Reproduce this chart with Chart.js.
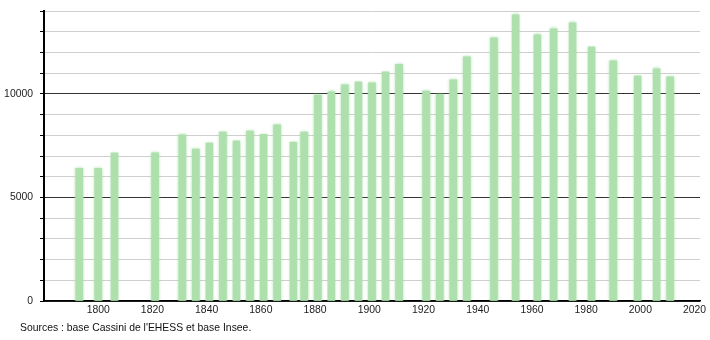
<!DOCTYPE html>
<html>
<head>
<meta charset="utf-8">
<script src="https://cdn.jsdelivr.net/npm/chart.js@4/dist/chart.umd.min.js"></script>
<style>
html,body{margin:0;padding:0;background:#fff;}
#wrap{position:relative;width:710px;height:340px;}
</style>
</head>
<body>
<div id="wrap"><canvas id="c" width="710" height="340"></canvas></div>
<script>
const years = [1793,1800,1806,1821,1831,1836,1841,1846,1851,1856,1861,1866,1872,1876,1881,1886,1891,1896,1901,1906,1911,1921,1926,1931,1936,1946,1954,1962,1968,1975,1982,1990,1999,2006,2011];
const population = [6400,6400,7150,7150,8020,7340,7630,8160,7730,8200,8050,8500,7670,8150,9940,10100,10430,10580,10530,11060,11430,10140,9980,10680,11790,12700,13820,12850,13140,13430,12270,11590,10870,11210,10820];
const xTickLabels = [1800,1820,1840,1860,1880,1900,1920,1940,1960,1980,2000,2020];
const yTickLabels = [0,5000,10000];
const sourceText = "Sources : base Cassini de l'EHESS et base Insee.";

const softBars = {
  id: 'softBars',
  beforeDatasetDraw(chart) {
    const ctx = chart.ctx;
    ctx.save();
    ctx.shadowColor = 'rgba(160,220,160,0.9)';
    ctx.shadowBlur = 3;
  },
  afterDatasetDraw(chart) { chart.ctx.restore(); }
};
const sourcePlugin = {
  id: 'sourceText',
  afterDraw(chart) {
    const ctx = chart.ctx;
    ctx.save();
    ctx.font = '10.4px "Liberation Sans", Arial, sans-serif';
    ctx.fillStyle = '#111';
    ctx.textBaseline = 'middle';
    ctx.textAlign = 'left';
    ctx.fillText(sourceText, 20, 328);
    ctx.restore();
  }
};

new Chart(document.getElementById('c'), {
  type: 'bar',
  data: {
    datasets: [{
      data: years.map((y, i) => ({x: y, y: population[i]})),
      backgroundColor: '#aee0ae',
      borderWidth: 0,
      barThickness: 7
    }]
  },
  options: {
    responsive: false,
    animation: false,
    events: [],
    layout: { padding: { top: 11, right: 10, left: 0, bottom: 0 } },
    plugins: { legend: { display: false }, tooltip: { enabled: false } },
    scales: {
      x: {
        type: 'linear',
        offset: false,
        min: 1780,
        max: 2022,
        afterFit(s) { s.height = 39; },
        afterBuildTicks(s) { s.ticks = xTickLabels.map(v => ({value: v})); },
        grid: { display: false, drawTicks: false, offset: false },
        border: { display: true, color: '#000', width: 1.5 },
        ticks: {
          padding: 3,
          color: '#222',
          font: { family: '"Liberation Sans", Arial, sans-serif', size: 10.4 },
          maxRotation: 0,
          autoSkip: false,
          callback: v => String(v)
        }
      },
      y: {
        min: 0,
        max: 14000,
        afterFit(s) { s.width = 44; s.paddingTop = 0; s.paddingBottom = 0; },
        grid: {
          color: ctx => (ctx.tick && ctx.tick.value % 5000 === 0 ? '#333' : '#cfcfcf'),
          lineWidth: 1,
          tickLength: 4,
          tickColor: '#000'
        },
        border: { display: true, color: '#000', width: 2 },
        ticks: {
          stepSize: 1000,
          padding: 7,
          color: '#222',
          font: { family: '"Liberation Sans", Arial, sans-serif', size: 10.4 },
          callback: v => (yTickLabels.includes(v) ? String(v) : '')
        }
      }
    }
  },
  plugins: [softBars, sourcePlugin]
});
</script>
</body>
</html>
